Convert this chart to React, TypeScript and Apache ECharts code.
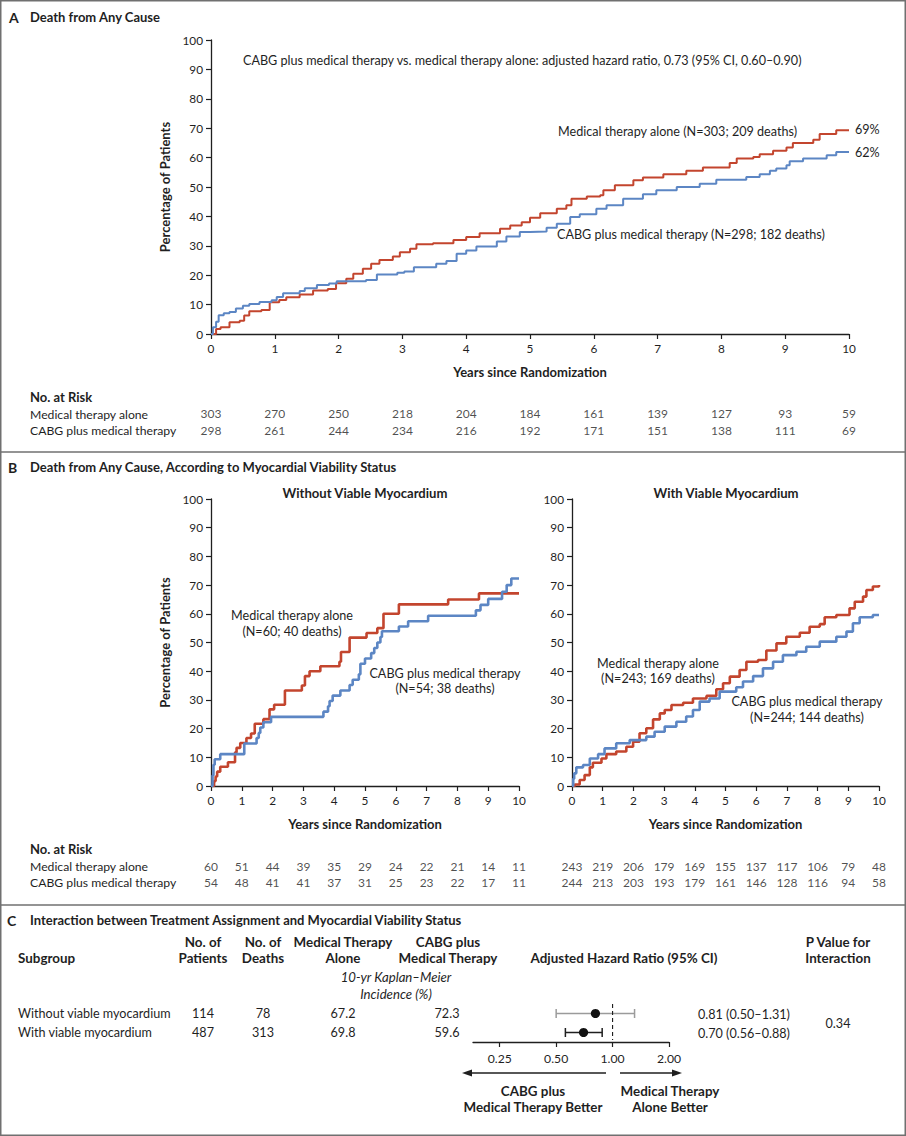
import React, { useEffect, useRef } from "react";
import * as echarts from "echarts";

const W = 906;
const H = 1136;
const RED = "#c3452e";
const BLUE = "#5c86c4";
const INK = "#1f1f1f";
const FRAME = "#707070";
const FF = "Lato, 'Open Sans', sans-serif";

// ---------- Panel A: all patients (years, cumulative % dead) ----------
const aMedical: number[][] = [
  [0, 0], [0.08, 1.7], [0.15, 2.3], [0.29, 4], [0.45, 4.5], [0.52, 6.3], [0.6, 7.7], [0.79, 8.2],
  [0.92, 10.8], [1.07, 11.6], [1.18, 12.5], [1.39, 13.4], [1.6, 14.8], [1.83, 15.3], [1.96, 17.3],
  [2.12, 18.8], [2.23, 20.5], [2.38, 22.2], [2.51, 23.9], [2.64, 25.2], [2.85, 26.4], [2.96, 27.8],
  [3.12, 29], [3.22, 30.5], [3.48, 30.9], [3.8, 32], [4.0, 33], [4.21, 34.3], [4.53, 35.8],
  [4.69, 36.9], [4.87, 38], [5.0, 39.5], [5.16, 41.1], [5.42, 42.6], [5.57, 43.8], [5.65, 46],
  [5.89, 46.8], [6.1, 47.2], [6.15, 48.9], [6.33, 50.6], [6.62, 52.3], [6.77, 53.2], [7.09, 54.3],
  [7.45, 55.5], [7.71, 56.6], [8.13, 58.2], [8.24, 59.7], [8.5, 60.2], [8.6, 61.1], [8.81, 62.3],
  [9.02, 63.4], [9.12, 65], [9.44, 66.1], [9.54, 68], [9.8, 69.3], [10, 69.5],
];
const aCabg: number[][] = [
  [0, 0], [0.03, 2.3], [0.08, 4.2], [0.12, 6.4], [0.2, 7.1], [0.29, 7.5], [0.39, 8.7], [0.5, 9.6],
  [0.6, 10.2], [0.76, 10.9], [0.95, 11.5], [1.03, 12.6], [1.13, 13.9], [1.39, 14.6], [1.47, 15.6],
  [1.66, 16.7], [1.85, 17.2], [1.97, 17.9], [2.43, 18.4], [2.6, 20.2], [2.92, 20.8], [3.03, 21.3],
  [3.18, 22.7], [3.53, 23.9], [3.69, 24.8], [3.85, 27.3], [4.0, 28.4], [4.16, 29.8], [4.48, 31.5],
  [4.63, 33.2], [4.84, 34.7], [5.0, 34.9], [5.26, 36.1], [5.42, 37.5], [5.63, 39.8], [5.78, 40.7],
  [6.04, 42.6], [6.2, 43.8], [6.46, 46], [6.77, 47.5], [6.98, 48.9], [7.3, 50], [7.66, 51.1],
  [7.92, 52.5], [8.39, 53.4], [8.6, 54.3], [8.76, 55.5], [8.86, 56.3], [9.02, 57.4], [9.07, 58.8],
  [9.28, 59.7], [9.65, 60.8], [9.8, 61.9], [10, 61.9],
];

// ---------- Panel B: without viable myocardium ----------
const bNoViaMedical: number[][] = [
  [0, 0], [0.1, 1.7], [0.15, 3.3], [0.2, 5.0], [0.3, 6.7], [0.55, 8.3], [0.78, 11.7], [0.83, 13.3],
  [0.95, 15], [1.15, 16.7], [1.3, 18.3], [1.42, 21.7], [1.7, 23.3], [1.9, 26.7], [2.05, 28.3],
  [2.4, 33.3], [2.95, 35], [3.05, 38.3], [3.2, 40], [3.55, 41.7], [4.17, 43.3], [4.22, 46.7],
  [4.5, 51.7], [5.05, 53.3], [5.4, 55], [5.6, 60], [6.1, 63.3], [7.7, 65], [8.7, 67.1], [10, 67.1],
];
const bNoViaCabg: number[][] = [
  [0, 0], [0.05, 3.7], [0.08, 7.4], [0.12, 9.3], [0.3, 11.1], [1.08, 14.8], [1.48, 16.7],
  [1.55, 18.5], [1.6, 20.4], [1.7, 22.2], [1.95, 24.1], [3.65, 25.9], [3.8, 27.8], [3.85, 29.6],
  [3.95, 31.5], [4.2, 33.3], [4.5, 35.2], [4.6, 37.0], [4.8, 38.9], [4.85, 42.6], [5.0, 44.4],
  [5.2, 46.3], [5.3, 48.1], [5.4, 50.0], [5.5, 51.9], [5.55, 53.9], [6.1, 55.6], [6.4, 57.4],
  [7.05, 59.3], [8.6, 61.2], [8.75, 63.1], [9.0, 65.2], [9.45, 67.7], [9.6, 70], [9.75, 72.3],
  [10, 72.3],
];

// ---------- Panel B: with viable myocardium ----------
const bViaMedical: number[][] = [
  [0, 0], [0.09, 0.5], [0.25, 2.1], [0.41, 3.8], [0.58, 6.5], [0.68, 8.1], [0.96, 9.6], [1.12, 11.1],
  [1.44, 12], [1.77, 13.7], [1.99, 15.4], [2.2, 18.4], [2.42, 20.1], [2.64, 23.2], [2.86, 25.3],
  [3.02, 26.5], [3.24, 28.2], [3.62, 29.0], [3.94, 30.5], [4.38, 31.4], [4.7, 33.7], [4.92, 35.8],
  [5.14, 38.1], [5.46, 40.4], [5.68, 43.3], [6.06, 43.9], [6.33, 47.2], [6.66, 49.7], [6.98, 52],
  [7.42, 53.4], [7.74, 55.5], [8.07, 56.4], [8.23, 58.8], [8.61, 59.6], [9.04, 61.9], [9.21, 64.2],
  [9.48, 66], [9.59, 68.3], [9.8, 69.5], [10, 70],
];
const bViaCabg: number[][] = [
  [0, 0], [0.04, 2.5], [0.07, 4.4], [0.14, 6.5], [0.36, 7.3], [0.58, 9.6], [0.85, 11.1],
  [1.06, 13.1], [1.44, 14.9], [1.88, 16], [2.42, 17.2], [2.69, 18.9], [3.02, 20.7], [3.4, 22.4],
  [3.72, 24.2], [3.94, 26.5], [4.16, 29.4], [4.48, 30.5], [4.81, 32.9], [5.35, 34.4], [5.57, 36.4],
  [5.9, 38.3], [6.22, 41], [6.55, 43.3], [6.87, 45.6], [7.31, 46.8], [7.63, 48.5], [8.07, 50.3],
  [8.61, 52], [8.94, 53.8], [9.15, 56.7], [9.37, 58.8], [9.8, 59.6], [10, 59.6],
];

// ---------- Numbers at risk ----------
const riskYears = [0, 1, 2, 3, 4, 5, 6, 7, 8, 9, 10];
const riskAMedical = [303, 270, 250, 218, 204, 184, 161, 139, 127, 93, 59];
const riskACabg = [298, 261, 244, 234, 216, 192, 171, 151, 138, 111, 69];
const riskNoViaMedical = [60, 51, 44, 39, 35, 29, 24, 22, 21, 14, 11];
const riskNoViaCabg = [54, 48, 41, 41, 37, 31, 25, 23, 22, 17, 11];
const riskViaMedical = [243, 219, 206, 179, 169, 155, 137, 117, 106, 79, 48];
const riskViaCabg = [244, 213, 203, 193, 179, 161, 146, 128, 116, 94, 58];

// ---------- Panel C ----------
const subgroups = ["Without viable myocardium", "With viable myocardium"];
const nPatients = ["114", "487"];
const nDeaths = ["78", "313"];
const kmMedical = ["67.2", "69.8"];
const kmCabg = ["72.3", "59.6"];
const hrPoint = [0.81, 0.7];
const hrLow = [0.5, 0.56];
const hrHigh = [1.31, 0.88];
const hrText = ["0.81 (0.50\u20131.31)", "0.70 (0.56\u20130.88)"];
const pInteraction = "0.34";
const hrTicks = [0.25, 0.5, 1, 2];
const hrMin = 0.18;
const hrMax = 2;

// ---------- helpers ----------
const TXT = 12.6; // body text size
const HDR = 13.4; // panel C header size

function txt(
  text: string,
  x: number,
  y: number,
  size = TXT,
  weight = "normal",
  align = "left",
  fontStyle = "normal",
  fill = INK
) {
  return {
    type: "text",
    silent: true,
    style: {
      text,
      x,
      y,
      fill,
      font: `${fontStyle} ${weight} ${size}px ${FF}`,
      align,
      verticalAlign: "middle",
      textAlign: align,
      textVerticalAlign: "middle",
    },
  };
}

const axisLineStyle = { color: INK, width: 1.3 };
const labelStyle = { fontFamily: FF, fontSize: 11.8, color: INK };
const nameStyle = { fontFamily: FF, fontSize: 13, fontWeight: "bold" as const, color: INK };

function kmX(gridIndex: number, name: string) {
  return {
    type: "value",
    gridIndex,
    min: 0,
    max: 10,
    interval: 1,
    name,
    nameLocation: "middle",
    nameGap: 31,
    nameTextStyle: nameStyle,
    axisLine: { show: true, onZero: false, lineStyle: axisLineStyle },
    axisTick: { show: true, length: 5, lineStyle: { color: INK, width: 1.2 } },
    axisLabel: { ...labelStyle, margin: 8 },
    splitLine: { show: false },
  };
}
function kmY(gridIndex: number, name: string) {
  return {
    type: "value",
    gridIndex,
    min: 0,
    max: 100,
    interval: 10,
    name,
    nameLocation: "middle",
    nameGap: 40,
    nameRotate: 90,
    nameTextStyle: nameStyle,
    axisLine: { show: true, onZero: false, lineStyle: axisLineStyle },
    axisTick: { show: true, length: 5, lineStyle: { color: INK, width: 1.2 } },
    axisLabel: { ...labelStyle, margin: 8 },
    splitLine: { show: false },
  };
}
function hiddenX(gridIndex: number) {
  return { type: "value", gridIndex, min: 0, max: 10, show: false, splitLine: { show: false } };
}
function hiddenY(gridIndex: number) {
  return { type: "value", gridIndex, min: 0, max: 2, inverse: true, show: false, splitLine: { show: false } };
}
function km(axis: number, data: number[][], color: string, width: number, endText?: string) {
  return {
    type: "line",
    xAxisIndex: axis,
    yAxisIndex: axis,
    data,
    step: "end",
    symbol: "none",
    silent: true,
    lineStyle: { color, width },
    endLabel: endText
      ? { show: true, formatter: endText, fontFamily: FF, fontSize: TXT, color: INK, distance: 6 }
      : { show: false },
  };
}
function riskSeries(axis: number, med: number[], cabg: number[]) {
  const data: (number | string)[][] = [];
  riskYears.forEach((yr, i) => {
    data.push([yr, 0.5, med[i]]);
    data.push([yr, 1.5, cabg[i]]);
  });
  return {
    type: "scatter",
    xAxisIndex: axis,
    yAxisIndex: axis,
    data,
    symbol: "circle",
    symbolSize: 1,
    silent: true,
    itemStyle: { color: "transparent" },
    label: {
      show: true,
      position: "inside",
      formatter: (p: any) => String(p.value[2]),
      fontFamily: FF,
      fontSize: 12,
      color: INK,
    },
  };
}

function buildOption() {
  const lg = Math.log2;
  const forestData = subgroups.map((s, i) => [lg(hrPoint[i]), lg(hrLow[i]), lg(hrHigh[i]), i + 0.5, i === 0 ? 1 : 0]);

  const graphics: any[] = [
    {
      type: "rect",
      silent: true,
      shape: { x: 0.75, y: 0.75, width: W - 1.5, height: H - 1.5 },
      style: { fill: "none", stroke: FRAME, lineWidth: 1.5 },
    },
    { type: "line", silent: true, shape: { x1: 0, y1: 452, x2: W, y2: 452 }, style: { stroke: FRAME, lineWidth: 1.5 } },
    { type: "line", silent: true, shape: { x1: 0, y1: 905, x2: W, y2: 905 }, style: { stroke: FRAME, lineWidth: 1.5 } },

    // Panel A
    txt("A", 9, 17, 14, "bold"),
    txt("Death from Any Cause", 30, 17, 13, "bold"),
    txt(
      "CABG plus medical therapy vs. medical therapy alone: adjusted hazard ratio, 0.73 (95% CI, 0.60\u20130.90)",
      243,
      60
    ),
    txt("Medical therapy alone (N=303; 209 deaths)", 558, 131),
    txt("CABG plus medical therapy (N=298; 182 deaths)", 557, 234),
    txt("No. at Risk", 30, 397, 13, "bold"),
    txt("Medical therapy alone", 30, 414, 12.2),
    txt("CABG plus medical therapy", 30, 430, 12.2),

    // Panel B
    txt("B", 8, 467, 14, "bold"),
    txt("Death from Any Cause, According to Myocardial Viability Status", 30, 467, 13, "bold"),
    txt("Without Viable Myocardium", 365, 493, 13.1, "bold", "center"),
    txt("With Viable Myocardium", 726, 493, 13.1, "bold", "center"),
    txt("Medical therapy alone", 292, 615, TXT, "normal", "center"),
    txt("(N=60; 40 deaths)", 292, 631, TXT, "normal", "center"),
    txt("CABG plus medical therapy", 445, 673, TXT, "normal", "center"),
    txt("(N=54; 38 deaths)", 445, 688, TXT, "normal", "center"),
    txt("Medical therapy alone", 658, 663, TXT, "normal", "center"),
    txt("(N=243; 169 deaths)", 658, 678, TXT, "normal", "center"),
    txt("CABG plus medical therapy", 807, 701, TXT, "normal", "center"),
    txt("(N=244; 144 deaths)", 807, 717, TXT, "normal", "center"),
    txt("No. at Risk", 30, 849, 13, "bold"),
    txt("Medical therapy alone", 30, 866, 12.2),
    txt("CABG plus medical therapy", 30, 882, 12.2),

    // Panel C
    txt("C", 7, 920, 14, "bold"),
    txt("Interaction between Treatment Assignment and Myocardial Viability Status", 30, 920, 13, "bold"),
    txt("Subgroup", 18, 958, HDR, "bold"),
    txt("No. of", 203, 942, HDR, "bold", "center"),
    txt("Patients", 203, 958, HDR, "bold", "center"),
    txt("No. of", 263, 942, HDR, "bold", "center"),
    txt("Deaths", 263, 958, HDR, "bold", "center"),
    txt("Medical Therapy", 343, 942, HDR, "bold", "center"),
    txt("Alone", 343, 958, HDR, "bold", "center"),
    txt("CABG plus", 448, 942, HDR, "bold", "center"),
    txt("Medical Therapy", 448, 958, HDR, "bold", "center"),
    txt("10-yr Kaplan\u2013Meier", 396, 977, 13.2, "normal", "center", "italic"),
    txt("Incidence (%)", 396, 994, 13.2, "normal", "center", "italic"),
    txt("Adjusted Hazard Ratio (95% CI)", 624, 958, HDR, "bold", "center"),
    txt("P Value for", 838, 942, HDR, "bold", "center"),
    txt("Interaction", 838, 958, HDR, "bold", "center"),
    txt(pInteraction, 838, 1023, TXT, "normal", "center"),
    txt("CABG plus", 533, 1091, HDR, "bold", "center"),
    txt("Medical Therapy Better", 533, 1107, HDR, "bold", "center"),
    txt("Medical Therapy", 670, 1091, HDR, "bold", "center"),
    txt("Alone Better", 670, 1107, HDR, "bold", "center"),
    { type: "line", silent: true, shape: { x1: 606, y1: 1073, x2: 470, y2: 1073 }, style: { stroke: INK, lineWidth: 1.3 } },
    { type: "polygon", silent: true, shape: { points: [[462, 1073], [472, 1069.5], [472, 1076.5]] }, style: { fill: INK } },
    { type: "line", silent: true, shape: { x1: 620, y1: 1073, x2: 674, y2: 1073 }, style: { stroke: INK, lineWidth: 1.3 } },
    { type: "polygon", silent: true, shape: { points: [[682, 1073], [672, 1069.5], [672, 1076.5]] }, style: { fill: INK } },
  ];

  const rowY = [1013, 1032];
  subgroups.forEach((s, i) => {
    graphics.push(txt(s, 18, rowY[i]));
    graphics.push(txt(nPatients[i], 203, rowY[i], TXT, "normal", "center"));
    graphics.push(txt(nDeaths[i], 263, rowY[i], TXT, "normal", "center"));
    graphics.push(txt(kmMedical[i], 343, rowY[i], TXT, "normal", "center"));
    graphics.push(txt(kmCabg[i], 447, rowY[i], TXT, "normal", "center"));
    graphics.push(txt(hrText[i], 698, rowY[i] + 1));
  });

  const tickVals = hrTicks.map((v) => lg(v));

  return {
    animation: false,
    backgroundColor: "#ffffff",
    textStyle: { fontFamily: FF },
    grid: [
      { left: 211, top: 40, width: 638, height: 294 },
      { left: 211, top: 405, width: 638, height: 34 },
      { left: 211, top: 499, width: 308, height: 287 },
      { left: 572, top: 499, width: 307, height: 287 },
      { left: 211, top: 858, width: 308, height: 32 },
      { left: 572, top: 858, width: 307, height: 32 },
      { left: 473, top: 1004, width: 196, height: 38 },
    ],
    xAxis: [
      kmX(0, "Years since Randomization"),
      hiddenX(1),
      kmX(2, "Years since Randomization"),
      kmX(3, "Years since Randomization"),
      hiddenX(4),
      hiddenX(5),
      {
        type: "value",
        gridIndex: 6,
        min: lg(hrMin),
        max: lg(hrMax),
        axisLine: { show: true, onZero: false, lineStyle: axisLineStyle },
        axisTick: { show: true, length: 5, customValues: tickVals, lineStyle: { color: INK, width: 1.2 } },
        axisLabel: {
          ...labelStyle,
          fontSize: 12.2,
          margin: 10,
          customValues: tickVals,
          formatter: (v: number) => Math.pow(2, v).toFixed(2),
        },
        splitLine: { show: false },
      },
    ],
    yAxis: [
      kmY(0, "Percentage of Patients"),
      hiddenY(1),
      kmY(2, "Percentage of Patients"),
      kmY(3, ""),
      hiddenY(4),
      hiddenY(5),
      hiddenY(6),
    ],
    series: [
      km(0, aMedical, RED, 2, "69%"),
      km(0, aCabg, BLUE, 2, "62%"),
      km(2, bNoViaMedical, RED, 2.6),
      km(2, bNoViaCabg, BLUE, 2.6),
      km(3, bViaMedical, RED, 2.6),
      km(3, bViaCabg, BLUE, 2.6),
      riskSeries(1, riskAMedical, riskACabg),
      riskSeries(4, riskNoViaMedical, riskNoViaCabg),
      riskSeries(5, riskViaMedical, riskViaCabg),
      {
        type: "line",
        xAxisIndex: 6,
        yAxisIndex: 6,
        data: [[0, 0], [0, 1.9]],
        symbol: "none",
        silent: true,
        lineStyle: { type: [4, 3], color: INK, width: 1.1 },
      },
      {
        type: "custom",
        xAxisIndex: 6,
        yAxisIndex: 6,
        data: forestData,
        encode: { x: [0, 1, 2], y: 3 },
        silent: true,
        renderItem: (params: any, api: any) => {
          const row = api.value(3);
          const c = api.coord([api.value(0), row]);
          const l = api.coord([api.value(1), row]);
          const h = api.coord([api.value(2), row]);
          const col = api.value(4) ? "#9b9b9b" : INK;
          const st = { stroke: col, lineWidth: 1.5 };
          return {
            type: "group",
            children: [
              { type: "line", shape: { x1: l[0], y1: c[1], x2: h[0], y2: c[1] }, style: st },
              { type: "line", shape: { x1: l[0], y1: c[1] - 4.5, x2: l[0], y2: c[1] + 4.5 }, style: st },
              { type: "line", shape: { x1: h[0], y1: c[1] - 4.5, x2: h[0], y2: c[1] + 4.5 }, style: st },
              { type: "circle", shape: { cx: c[0], cy: c[1], r: 4.6 }, style: { fill: "#111111" } },
            ],
          };
        },
      },
    ],
    graphic: graphics,
  };
}

export default function App() {
  const ref = useRef<HTMLDivElement>(null);
  useEffect(() => {
    document.body.style.margin = "0";
    if (!ref.current) return;
    const chart = echarts.init(ref.current, null, { renderer: "svg", width: W, height: H });
    chart.setOption(buildOption() as any);
    return () => chart.dispose();
  }, []);
  return (
    <div
      ref={ref}
      style={{ position: "absolute", left: 0, top: 0, width: W, height: H, background: "#fff" }}
    />
  );
}
